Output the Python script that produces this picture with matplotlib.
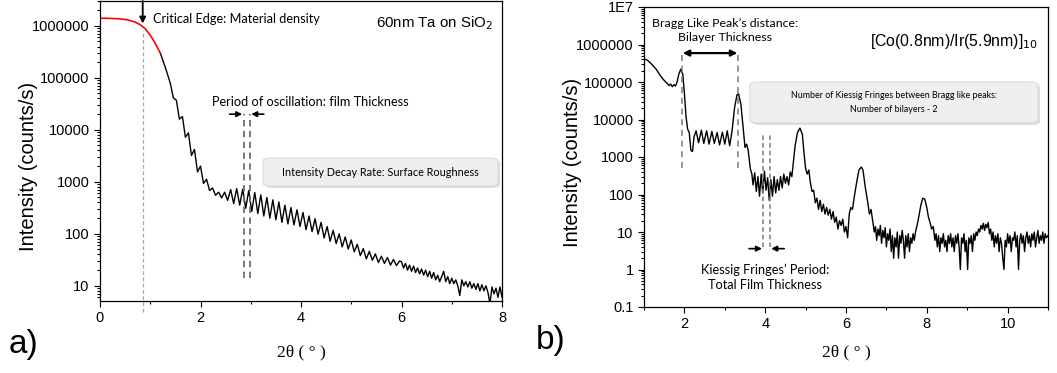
"""XRR curves: 60nm Ta film (a) and [Co/Ir]10 multilayer (b)."""

import matplotlib
matplotlib.use("Agg")
import matplotlib.pyplot as plt
from matplotlib.patches import FancyBboxPatch
from matplotlib.ticker import FixedLocator, NullFormatter
from matplotlib.transforms import blended_transform_factory

W, H = 1057, 373

# ---- panel a) : total-reflection plateau (red) then Kiessig decay (black)
ta_red_x = [0.0, 0.2, 0.4, 0.55, 0.7, 0.8, 0.9, 1.0, 1.1, 1.2]
ta_red_y = [1.4e6, 1.39e6, 1.36e6, 1.3e6, 1.18e6, 1.05e6, 8.8e5, 6.6e5, 4.6e5, 3.0e5]

ta_x = [1.20, 1.28, 1.34,
        1.40, 1.46, 1.52, 1.58, 1.64, 1.70, 1.76, 1.82, 1.88, 1.94,
        2.00, 2.06, 2.12, 2.18, 2.24, 2.30, 2.36, 2.42, 2.48, 2.54,
        2.60, 2.66, 2.72, 2.78, 2.84, 2.90, 2.96, 3.02, 3.08, 3.14,
        3.20, 3.26, 3.32, 3.38, 3.44, 3.50, 3.56, 3.62, 3.68, 3.74,
        3.80, 3.86, 3.92, 3.98, 4.04, 4.10, 4.16, 4.22, 4.28, 4.34,
        4.40, 4.46, 4.52, 4.58, 4.64, 4.70, 4.76, 4.82, 4.88, 4.94,
        5.00, 5.06, 5.12, 5.18, 5.24, 5.30, 5.36, 5.42, 5.48, 5.54,
        5.60, 5.66, 5.72, 5.78, 5.84, 5.90, 5.96,
        6.00, 6.04, 6.08, 6.12, 6.16, 6.20, 6.24, 6.28, 6.32, 6.36,
        6.40, 6.44, 6.48, 6.52, 6.56, 6.60, 6.64, 6.68, 6.72, 6.76,
        6.80, 6.84, 6.88, 6.92, 6.96, 7.00, 7.04, 7.08, 7.12, 7.16,
        7.20, 7.24, 7.28, 7.32, 7.36, 7.40, 7.44, 7.48, 7.52, 7.56,
        7.60, 7.64, 7.68, 7.72, 7.76, 7.80, 7.84, 7.88, 7.92, 7.96, 8.00]
ta_y = [3.0e5, 1.8e5, 1.2e5,
        78000, 41000, 37000, 16000, 18000, 7200, 8700, 3200, 4200, 1550,
        2000, 930, 1120, 680, 760, 550, 630, 490, 630, 440,
        710, 380, 740, 355, 720, 310, 680, 270, 620, 245,
        560, 220, 500, 200, 450, 186, 410, 166, 355, 155,
        320, 148, 290, 138, 257, 120, 220, 110, 195, 98,
        166, 83, 138, 72, 117, 65, 100, 56, 87, 51,
        76, 45, 63, 38, 52, 33, 46, 31, 41, 28,
        37, 27, 35, 25, 32, 24.5, 30,
        29, 22, 27, 20, 25, 19, 24, 18, 22, 17,
        21, 16, 20, 15, 19, 14, 18, 13, 16, 12,
        15, 19, 12, 15, 11, 14, 11, 13, 10, 6.5,
        13, 10, 12, 9.5, 12, 9, 11, 8.5, 11, 8,
        10.5, 8, 10, 7.5, 4.5, 9.5, 7, 9, 6, 9.5, 6]

# ---- panel b) : multilayer with Bragg-like peaks
ml_x = [1.00, 1.05, 1.10, 1.20, 1.30, 1.40, 1.50, 1.58, 1.62, 1.66,
        1.70, 1.74, 1.78, 1.82, 1.86, 1.91, 1.96, 2.00, 2.04, 2.08,
        2.12, 2.16, 2.20, 2.24, 2.29, 2.35, 2.42, 2.48, 2.55, 2.61,
        2.68, 2.74, 2.81, 2.87, 2.94, 3.00, 3.06, 3.12, 3.18, 3.24,
        3.30, 3.34, 3.40, 3.46, 3.50, 3.54, 3.58, 3.63, 3.67, 3.70,
        3.74, 3.78, 3.82, 3.86, 3.90, 3.94, 3.98, 4.02, 4.06, 4.10,
        4.14, 4.18, 4.22, 4.26, 4.30, 4.34, 4.38, 4.42, 4.46, 4.50,
        4.54, 4.58, 4.62, 4.66, 4.70, 4.74, 4.80, 4.86, 4.92, 4.97,
        5.00, 5.04, 5.08, 5.12, 5.16, 5.20, 5.24, 5.28, 5.32, 5.36,
        5.40, 5.44, 5.48, 5.52, 5.56, 5.60, 5.64, 5.68, 5.72, 5.76,
        5.80, 5.84, 5.88, 5.92, 5.96, 6.00, 6.04, 6.08, 6.12, 6.16,
        6.20, 6.26, 6.32, 6.38, 6.42, 6.48, 6.54, 6.58, 6.62, 6.66,
        6.70, 6.73, 6.76, 6.79, 6.82, 6.85, 6.88, 6.91, 6.94, 6.97,
        7.00, 7.03, 7.06, 7.09, 7.12, 7.15, 7.18, 7.21, 7.24, 7.27,
        7.30, 7.33, 7.36, 7.39, 7.42, 7.45, 7.48, 7.51, 7.54, 7.57,
        7.60, 7.63, 7.66, 7.69, 7.72, 7.76, 7.80, 7.85, 7.90, 7.95,
        8.00, 8.04, 8.08, 8.12, 8.16, 8.20, 8.23, 8.26, 8.29, 8.32,
        8.35, 8.38, 8.41, 8.44, 8.47, 8.50, 8.53, 8.56, 8.59, 8.62,
        8.65, 8.68, 8.71, 8.74, 8.77, 8.80, 8.83, 8.86, 8.89, 8.92,
        8.95, 8.98, 9.01, 9.04, 9.07, 9.10, 9.13, 9.16, 9.19, 9.22,
        9.25, 9.28, 9.31, 9.34, 9.37, 9.40, 9.43, 9.46, 9.49, 9.52,
        9.55, 9.58, 9.61, 9.64, 9.67, 9.70, 9.73, 9.76, 9.79, 9.82,
        9.85, 9.88, 9.91, 9.94, 9.97, 10.00, 10.03, 10.06, 10.09, 10.12,
        10.15, 10.18, 10.21, 10.24, 10.27, 10.30, 10.33, 10.36, 10.39, 10.42,
        10.45, 10.48, 10.51, 10.54, 10.57, 10.60, 10.63, 10.66, 10.69, 10.72,
        10.75, 10.78, 10.81, 10.84, 10.87, 10.90, 10.93, 10.96, 11.00]
ml_y = [4.0e5, 4.0e5, 3.7e5, 2.9e5, 2.2e5, 1.5e5, 1.1e5, 9.0e4, 8.0e4, 8.8e4,
        7.5e4, 8.5e4, 7.8e4, 1.0e5, 1.6e5, 2.2e5, 1.6e5, 5.0e4, 1.2e4, 5.5e3,
        4.5e3, 1.5e3, 1.4e3, 3.5e3, 5.0e3, 2.4e3, 5.2e3, 2.3e3, 5.0e3, 2.2e3,
        4.8e3, 2.3e3, 4.5e3, 2.1e3, 4.6e3, 2.2e3, 5.0e3, 2.0e3, 5.0e3, 2.0e4,
        4.5e4, 4.8e4, 2.5e4, 5.0e3, 1.8e3, 2.2e3, 1.5e3, 500, 350, 180,
        380, 120, 300, 90, 350, 110, 420, 130, 280, 70,
        250, 90, 300, 110, 250, 130, 300, 150, 350, 200,
        300, 180, 400, 300, 800, 2000, 4500, 5900, 4000, 1000,
        500, 350, 450, 200, 120, 130, 60, 80, 40, 70,
        35, 55, 30, 45, 28, 40, 22, 35, 18, 25,
        12, 20, 15, 22, 10, 14, 7, 30, 45, 40,
        80, 200, 450, 540, 450, 150, 60, 30, 40, 20,
        10, 14, 6, 12, 8, 15, 5, 11, 7, 13,
        4, 9, 6, 12, 3, 8, 2, 7, 4, 10,
        2, 8, 5, 11, 6, 2, 8, 4, 9, 3,
        7, 5, 9, 6, 10, 15, 25, 50, 80, 75,
        45, 25, 18, 12, 14, 6, 9, 4, 8, 3,
        7, 5, 9, 4, 6, 3, 8, 5, 9, 4,
        7, 3, 8, 5, 9, 4, 1, 7, 5, 9,
        3, 6, 1, 7, 5, 8, 3, 9, 6, 10,
        8, 12, 10, 15, 12, 17, 11, 16, 13, 18,
        9, 12, 6, 10, 4, 8, 5, 9, 3, 7,
        5, 2, 1, 6, 4, 9, 5, 8, 3, 7,
        6, 10, 4, 8, 1, 6, 9, 5, 8, 3,
        7, 10, 5, 8, 4, 9, 6, 10, 4, 7,
        11, 5, 8, 6, 10, 5, 9, 7, 8]

ta_ticks = [10, 100, 1000, 10000, 100000, 1000000]
ml_ticks = [0.1, 1, 10, 100, 1000, 10000, 100000, 1000000, 1e7]
ml_ticklabels = ["0.1", "1", "10", "100", "1000", "10000", "100000", "1000000", "1E7"]

ARIAL = "Liberation Sans"
CAL = "Lato"
SERIF = "Liberation Serif"


def fx(px):
    return px / W


def fy(py):
    return 1 - py / H


def style_axis(ax, yticks, ylabels, xmajor, xminor):
    ax.set_yscale("log")
    ax.yaxis.set_major_locator(FixedLocator(yticks))
    ax.set_yticklabels(ylabels)
    ax.yaxis.set_minor_formatter(NullFormatter())
    ax.set_xticks(xmajor)
    ax.set_xticks(xminor, minor=True)
    ax.tick_params(which="both", direction="out", top=False, right=False,
                   labelsize=10.5, width=0.8)
    ax.tick_params(which="major", length=4)
    ax.tick_params(which="minor", length=2)
    for lab in ax.get_xticklabels() + ax.get_yticklabels():
        lab.set_fontfamily(ARIAL)
    for s in ax.spines.values():
        s.set_linewidth(0.9)
    ax.set_ylabel("Intensity (counts/s)", fontsize=14.5, family=ARIAL)
    ax.set_xlabel("2θ ( ° )", fontsize=12.5, family=SERIF)


def add_box(fig, x0, y0, x1, y1):
    shadow = FancyBboxPatch((fx(x0 + 2), fy(y1 + 2)), fx(x1 - x0), (y1 - y0) / H,
                            boxstyle="round,pad=0,rounding_size=0.008",
                            transform=fig.transFigure, fc="#c8c8c8", ec="none",
                            alpha=0.6, zorder=5)
    box = FancyBboxPatch((fx(x0), fy(y1)), fx(x1 - x0), (y1 - y0) / H,
                         boxstyle="round,pad=0,rounding_size=0.008",
                         transform=fig.transFigure, fc="#efefef", ec="#dadada",
                         lw=0.8, zorder=6)
    fig.patches.extend([shadow, box])


fig = plt.figure(figsize=(W / 100, H / 100), dpi=100)

# ---------------- panel a
ax1 = fig.add_axes([fx(100), fy(301), fx(402), 300 / H])
ax1.plot(ta_x, ta_y, color="black", lw=1.0)
ax1.plot(ta_red_x, ta_red_y, color="red", lw=1.2)
ax1.set_xlim(0, 8)
ax1.set_ylim(5.1, 3.0e6)
style_axis(ax1, ta_ticks, [str(t) for t in ta_ticks], [0, 2, 4, 6, 8], [1, 3, 5, 7])
ax1.yaxis.set_label_coords(-0.154, 0.45)
ax1.xaxis.set_label_coords(0.5, -0.145)

tr1 = blended_transform_factory(ax1.transData, ax1.transAxes)
ax1.plot([0.85, 0.85], [-0.037, 0.903], transform=tr1, color="#a8a8a8", lw=0.9,
         ls=(0, (3, 2)), clip_on=False)
ax1.annotate("", xy=(0.85, 0.925), xytext=(0.85, 1.0), xycoords=tr1, textcoords=tr1,
             arrowprops=dict(arrowstyle="-|>", color="black", lw=1.3, mutation_scale=9,
                             shrinkA=0, shrinkB=0))
ax1.text(0.85 + 0.2, 0.94, "Critical Edge: Material density", transform=tr1,
         family=CAL, fontsize=9.2, va="center", ha="left")
ax1.text(0.978, 0.925, "60nm Ta on SiO$_2$", transform=ax1.transAxes, family=ARIAL,
         fontsize=10.8, ha="right", va="center")

for xv in (2.856, 2.985):
    ax1.plot([xv, xv], [14, 20000], color="#6e6e6e", lw=1.3, ls=(0, (3.5, 2.5)))
ax1.annotate("", xy=(2.83, 20000), xytext=(2.58, 20000),
             arrowprops=dict(arrowstyle="-|>", color="black", lw=1.2, mutation_scale=8,
                             shrinkA=0, shrinkB=0))
ax1.annotate("", xy=(3.01, 20000), xytext=(3.26, 20000),
             arrowprops=dict(arrowstyle="-|>", color="black", lw=1.2, mutation_scale=8,
                             shrinkA=0, shrinkB=0))
ax1.text(0.522, 0.665, "Period of oscillation: film Thickness", transform=ax1.transAxes,
         family=CAL, fontsize=9.2, ha="center", va="center")

add_box(fig, 263, 158, 498, 186)
fig.text(fx(380.5), fy(172), "Intensity Decay Rate: Surface Roughness", family=CAL,
         fontsize=7.8, ha="center", va="center", zorder=7)

# ---------------- panel b
ax2 = fig.add_axes([fx(644), fy(307), fx(404), 300 / H])
ax2.plot(ml_x, ml_y, color="black", lw=1.0)
ax2.set_xlim(1, 11)
ax2.set_ylim(0.1, 1e7)
style_axis(ax2, ml_ticks, ml_ticklabels, [2, 4, 6, 8, 10], [1, 3, 5, 7, 9, 11])
ax2.yaxis.set_label_coords(-0.153, 0.483)
ax2.xaxis.set_label_coords(0.5, -0.125)

for xv in (1.94, 3.33):
    ax2.plot([xv, xv], [515, 5.9e5], color="#7a7a7a", lw=1.1, ls=(0, (4, 3)))
ax2.annotate("", xy=(1.96, 5.9e5), xytext=(3.31, 5.9e5),
             arrowprops=dict(arrowstyle="<|-|>", color="black", lw=1.6, mutation_scale=9,
                             shrinkA=0, shrinkB=0))
ax2.text(0.2, 0.922, "Bragg Like Peak’s distance:\nBilayer Thickness",
         transform=ax2.transAxes, family=CAL, fontsize=8.9, ha="center", va="center",
         linespacing=1.25)
ax2.text(0.975, 0.885, "[Co(0.8nm)/Ir(5.9nm)]$_{10}$", transform=ax2.transAxes,
         family=ARIAL, fontsize=11.4, ha="right", va="center")

for xv in (3.94, 4.12):
    ax2.plot([xv, xv], [4, 4400], color="#7a7a7a", lw=1.1, ls=(0, (3, 2)))
ax2.annotate("", xy=(3.92, 3.6), xytext=(3.6, 3.6),
             arrowprops=dict(arrowstyle="-|>", color="black", lw=1.2, mutation_scale=8,
                             shrinkA=0, shrinkB=0))
ax2.annotate("", xy=(4.15, 3.6), xytext=(4.47, 3.6),
             arrowprops=dict(arrowstyle="-|>", color="black", lw=1.2, mutation_scale=8,
                             shrinkA=0, shrinkB=0))
ax2.text(0.3, 0.098, "Kiessig Fringes’ Period:\nTotal Film Thickness",
         transform=ax2.transAxes, family=CAL, fontsize=9.2, ha="center", va="center",
         linespacing=1.3)

add_box(fig, 750, 82, 1038, 123)
fig.text(fx(894), fy(102.5),
         "Number of Kiessig Fringes between Bragg like peaks:\nNumber of bilayers - 2",
         family=CAL, fontsize=6.4, ha="center", va="center", linespacing=1.7, zorder=7)

fig.text(fx(9), fy(345), "a)", family=ARIAL, fontsize=24, ha="left", va="center")
fig.text(fx(536), fy(340), "b)", family=ARIAL, fontsize=24, ha="left", va="center")

fig.savefig("out.png", dpi=100)
